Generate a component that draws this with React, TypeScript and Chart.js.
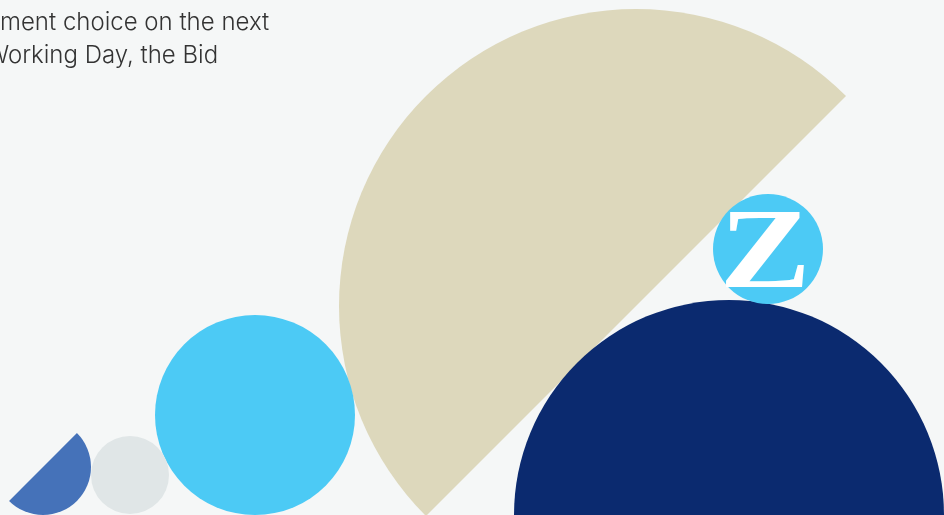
import { useEffect, useRef } from "react";
import { Chart, registerables } from "chart.js";

Chart.register(...registerables);

// Shapes (in page pixel units on a 944 x 515 value grid)
const shapeNames = ["beigeHalf", "cyanCircle", "greyCircle", "blueHalf", "navyHalf", "logoCircle"];
const centerX = [636, 255, 130, 43, 729, 768];
const centerY = [306, 415, 475, 467, 515, 249];
const radius = [297, 100, 39, 48, 215, 55];
const startDeg = [135, 0, 0, -45, 180, 0];
const endDeg = [315, 360, 360, 135, 360, 360];
const shapeColors = ["#ddd8bc", "#4ccaf5", "#e0e6e7", "#4572b9", "#0b2a6f", "#4ccaf5"];

const textLines = ["ment choice on the next", "Working Day, the Bid"];
const logoLetter = "Z";

const shapesPlugin = {
  id: "shapes",
  beforeDraw(chart: any) {
    const { ctx, width, height } = chart;
    ctx.save();
    ctx.fillStyle = "#f5f7f7";
    ctx.fillRect(0, 0, width, height);
    ctx.restore();
  },
  afterDatasetsDraw(chart: any) {
    const { ctx } = chart;
    const xs = chart.scales.x;
    const meta = chart.getDatasetMeta(0);
    ctx.save();
    shapeNames.forEach((_, i) => {
      const pt = meta.data[i];
      const px = pt.x;
      const py = pt.y;
      const pr = Math.abs(xs.getPixelForValue(centerX[i] + radius[i]) - xs.getPixelForValue(centerX[i]));
      const a0 = (startDeg[i] * Math.PI) / 180;
      const a1 = (endDeg[i] * Math.PI) / 180;
      ctx.beginPath();
      if (endDeg[i] - startDeg[i] < 360) {
        ctx.moveTo(px, py);
      }
      ctx.arc(px, py, pr, a0, a1, false);
      ctx.closePath();
      ctx.fillStyle = shapeColors[i];
      ctx.fill();
    });
    // Logo letter
    const li = shapeNames.indexOf("logoCircle");
    const lp = meta.data[li];
    ctx.translate(lp.x - 3, lp.y + 38);
    ctx.scale(1.2, 1);
    ctx.fillStyle = "#ffffff";
    ctx.font = "bold 114px 'Liberation Serif', 'DejaVu Serif', serif";
    ctx.textAlign = "center";
    ctx.textBaseline = "alphabetic";
    ctx.fillText(logoLetter, 0, 0);
    ctx.restore();
  },
};

export default function App() {
  const canvasRef = useRef<HTMLCanvasElement | null>(null);

  useEffect(() => {
    document.body.style.margin = "0";
    const canvas = canvasRef.current;
    if (!canvas) return;
    const chart = new Chart(canvas, {
      type: "scatter",
      data: {
        datasets: [
          {
            label: "shapes",
            data: centerX.map((x, i) => ({ x, y: centerY[i] })),
            pointRadius: 0,
            pointHoverRadius: 0,
          },
        ],
      },
      options: {
        responsive: false,
        animation: false,
        layout: { padding: 0 },
        events: [],
        scales: {
          x: { type: "linear", min: 0, max: 944, display: false },
          y: { type: "linear", min: 0, max: 515, reverse: true, display: false },
        },
        plugins: {
          legend: { display: false },
          tooltip: { enabled: false },
          title: { display: false },
        },
      },
      plugins: [shapesPlugin],
    });
    return () => chart.destroy();
  }, []);

  return (
    <div style={{ position: "relative", width: 944, height: 515, overflow: "hidden", background: "#f5f7f7" }}>
      <canvas ref={canvasRef} width={944} height={515} style={{ display: "block", width: 944, height: 515 }} />
      <div
        style={{
          position: "absolute",
          top: 5,
          left: 0,
          fontFamily: "Inter, 'Noto Sans', sans-serif",
          fontSize: 24,
          fontWeight: 300,
          lineHeight: "33px",
          color: "#333333",
          whiteSpace: "nowrap",
        }}
      >
        <div style={{ marginLeft: 0 }}>{textLines[0]}</div>
        <div style={{ marginLeft: -14 }}>{textLines[1]}</div>
      </div>
    </div>
  );
}
